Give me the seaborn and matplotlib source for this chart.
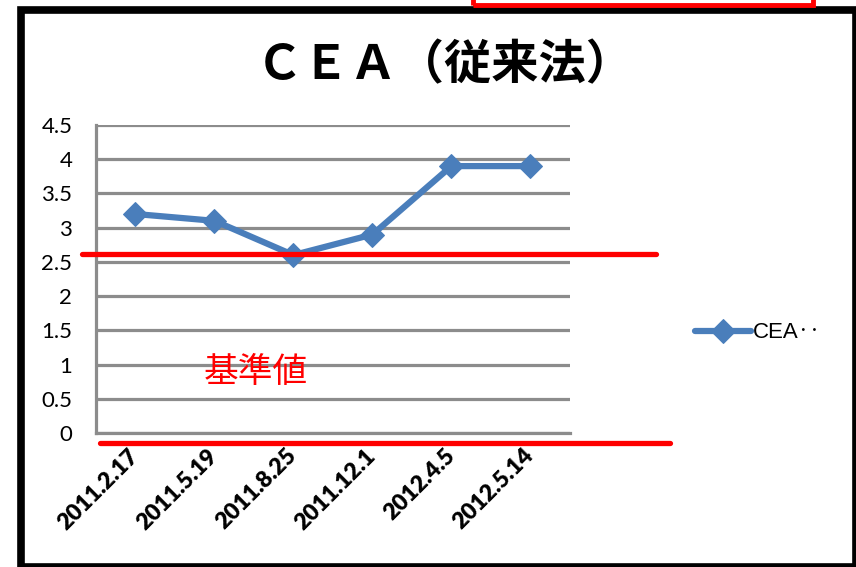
import numpy as np
import pandas as pd
import seaborn as sns
import matplotlib.pyplot as plt
from matplotlib.patches import Rectangle
from matplotlib.ticker import FixedLocator

sns.set_style('white')
plt.rcParams['font.family'] = ['Lato', 'DejaVu Sans']
plt.rcParams['text.color'] = 'black'
plt.rcParams['xtick.labelcolor'] = 'black'
plt.rcParams['ytick.labelcolor'] = 'black'

# data
dates = ['2011.2.17', '2011.5.19', '2011.8.25', '2011.12.1', '2012.4.5', '2012.5.14']
cea = [3.2, 3.1, 2.6, 2.9, 3.9, 3.9]
yticks = [0, 0.5, 1, 1.5, 2, 2.5, 3, 3.5, 4, 4.5]
reference_level = 2.62
baseline_level = -0.15

title = 'ＣＥＡ（従来法）'
series_name = 'CEA‥'
ref_label = '基準値'

GRID = '#8c8c8c'
BLUE = '#4a7ebb'
RED = '#ff0000'
CJK = ['Noto Sans CJK JP', 'DejaVu Sans']

df = pd.DataFrame({'date': dates, 'CEA': cea})

fig = plt.figure(figsize=(8.56, 5.67), dpi=100)
ax = fig.add_axes([0.1121, 0.2363, 0.5537, 0.5432])

sns.lineplot(data=df, x='date', y='CEA', ax=ax, color=BLUE, linewidth=4.5,
             marker='D', markersize=12, markeredgecolor=BLUE, label=series_name,
             legend=False, sort=False, zorder=5)

ax.set_xlim(-0.5, len(dates) - 0.5)
ax.set_ylim(0, 4.5)
ax.set_yticks(yticks)
ax.set_yticklabels([f'{v:g}' for v in yticks], fontsize=16, color='black')
ax.yaxis.grid(True, color=GRID, linewidth=2.3)
ax.xaxis.grid(False)

ax.set_xticks(range(len(dates)))
ax.set_xticklabels(dates, rotation=45, ha='right', va='center', color='black',
                   rotation_mode='anchor', fontsize=16.5, fontweight='heavy')
ax.xaxis.set_minor_locator(FixedLocator(np.arange(-0.5, len(dates), 1)))
ax.tick_params(axis='x', which='major', length=0, pad=14)
ax.tick_params(axis='x', which='minor', length=5, width=2.3, color=GRID, direction='out')
ax.tick_params(axis='y', length=5, width=2.3, color=GRID, direction='out', pad=12)

for side in ['top', 'right']:
    ax.spines[side].set_visible(False)
for side in ['left', 'bottom']:
    ax.spines[side].set_color(GRID)
    ax.spines[side].set_linewidth(2.3)

ax.set_xlabel('')
ax.set_ylabel('')

# red reference lines drawn over the chart
ax.axhline(reference_level, xmin=-0.03, xmax=1.181, color=RED, linewidth=3.8,
           clip_on=False, zorder=6)
ax.axhline(baseline_level, xmin=0.008, xmax=1.211, color=RED, linewidth=3.8,
           clip_on=False, zorder=6)
ax.text(1.53, 0.89, ref_label, color=RED, fontsize=25, ha='center', va='center',
        family=CJK)

fig.text(0.52, 0.885, title, fontsize=34, fontweight='bold', color='black',
         ha='center', va='center', family=CJK)

ax.legend(loc='center left', bbox_to_anchor=(0.799, 0.413), bbox_transform=fig.transFigure,
          frameon=False, handlelength=2.5, handletextpad=0.1, borderpad=0,
          prop={'family': ['Liberation Sans', 'Noto Sans CJK JP'], 'size': 16})

# outer frame and red box at the top
fig.patches.append(Rectangle((0.0245, 0.0), 0.9755, 0.982, transform=fig.transFigure,
                             fill=False, edgecolor='black', linewidth=5.5))
fig.patches.append(Rectangle((0.5526, 0.991), 0.3972, 0.1, transform=fig.transFigure,
                             fill=False, edgecolor=RED, linewidth=3.5))

plt.savefig('out.png', dpi=100)
